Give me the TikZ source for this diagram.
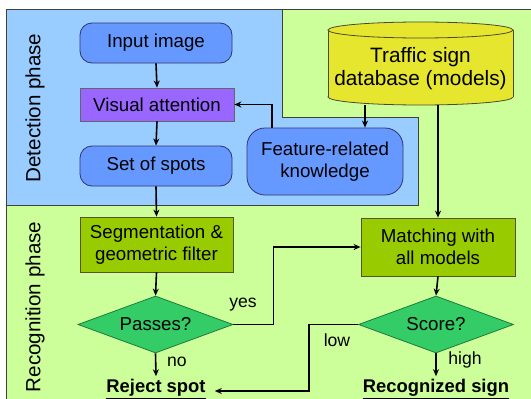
\documentclass[tikz,border=0pt]{standalone}
\usepackage{fontspec}
\setmainfont{Liberation Sans}
\usetikzlibrary{shapes.geometric,arrows.meta}
\definecolor{bluebg}{HTML}{99CCFF}
\definecolor{greenbg}{HTML}{CCFF99}
\definecolor{boxblue}{HTML}{6699FF}
\definecolor{boxpurple}{HTML}{9966FF}
\definecolor{boxolive}{HTML}{99CC00}
\definecolor{diagreen}{HTML}{33CC66}
\definecolor{dbyellow}{HTML}{E6E62E}
\begin{document}
\begin{tikzpicture}[x=1pt,y=-1pt,
  arr/.style={line width=1.6pt,-{Stealth[length=7pt,width=6pt]}},
  basefont/.style={font=\fontsize{18.7}{21.5}\selectfont, align=center},
  rbox/.style={basefont, draw=blue!30!black!80, fill=boxblue, line width=0.8pt, rounded corners=12pt, minimum width=152pt, minimum height=40pt, inner sep=0pt},
  pbox/.style={basefont, draw=black!60, fill=boxpurple, line width=0.8pt, minimum width=154pt, minimum height=33pt, inner sep=0pt},
  gbox/.style={basefont, draw=black!50!olive, fill=boxolive, line width=0.8pt, inner sep=0pt},
  dia/.style={basefont, diamond, aspect=2.7, draw=black!40!diagreen, fill=diagreen, line width=0.8pt, minimum width=155pt, minimum height=57pt, inner sep=0pt},
  res/.style={font=\fontsize{18.4}{21}\selectfont\bfseries, inner sep=3pt},
  lbl/.style={font=\fontsize{17.6}{20}\selectfont, inner sep=0pt},
  phase/.style={font=\fontsize{20.6}{24}\selectfont, rotate=90, inner sep=0pt},
  region/.style={draw=black!75, line width=1pt}
]
\useasboundingbox (0,0) rectangle (531,399);
\fill[white] (0,0) rectangle (531,399);
% regions
\fill[greenbg] (6,9) rectangle (531,399);
\draw[region] (6,399) -- (6,9) -- (531,9);
\filldraw[region, fill=bluebg] (6,9) -- (282,9) -- (282,117) -- (418,117) -- (418,205) -- (6,205) -- cycle;
\node[phase] (dp) at (35,108) {Detection phase};
\node[phase] (rp) at (35,307) {Recognition phase};
% database cylinder
\filldraw[fill=dbyellow, draw=black!60!olive, line width=0.8pt] (420.5,97) ellipse [x radius=92.5, y radius=8];
\fill[dbyellow] (328,30) rectangle (513,97);
\draw[draw=black!60!olive, line width=0.8pt] (328,30) -- (328,97) (513,30) -- (513,97);
\filldraw[fill=dbyellow, draw=black!60!olive, line width=0.8pt] (420.5,30) ellipse [x radius=92.5, y radius=8];
\node[font=\fontsize{20.8}{23}\selectfont, align=center, minimum width=185pt, minimum height=73pt, inner sep=0pt] (db) at (420.5,68.5) {Traffic sign\\database (models)};
% nodes
\node[rbox] (in) at (156,43) {Input image};
\node[pbox] (va) at (157,104.5) {Visual attention};
\node[rbox] (sp) at (156,166) {Set of spots};
\node[rbox, minimum width=156pt, minimum height=67pt, rounded corners=18pt] (fk) at (325,161.5) {Feature-related\\knowledge};
\node[gbox, minimum width=153pt, minimum height=55pt] (sg) at (156.5,244.5) {Segmentation \&\\geometric filter};
\node[gbox, minimum width=154pt, minimum height=58pt] (mt) at (438,247) {Matching with\\all models};
\node[dia] (ps) at (155.5,324.5) {Passes?};
\node[dia] (sc) at (436,324.5) {Score?};
\node[res, inner xsep=9pt] (rj) at (156,389) {\underline{Reject spot}};
\node[res] (rs) at (436,389) {\underline{Recognized sign}};
% connectors
\draw[arr] (in.south) -- (va.north);
\draw[arr] (va.south) -- (sp.north);
\draw[arr] (sp.south) -- (sg.north);
\draw[arr] (sg.south) -- (ps.north);
\draw[arr] (ps.south) -- (rj.north);
\draw[arr] (mt.south) -- (sc.north);
\draw[arr] (sc.south) -- (rs.north);
\draw[arr] ([xshift=-53pt]fk.north) |- (va.east);
\draw[arr] ([xshift=-55.5pt]db.south) -- ([xshift=40pt]fk.north);
\draw[arr] (db.south -| mt.north) -- (mt.north);
\draw[arr] (ps.east) -- ++(40,0) |- (mt.west);
\draw[arr] (sc.west) -- ++(-49,0) |- ([yshift=-2pt]rj.east);
% labels
\node[lbl] (yes) at (243,305) {yes};
\node[lbl] (no) at (177,362) {no};
\node[lbl] (low) at (337,340) {low};
\node[lbl] (high) at (465,360) {high};
\end{tikzpicture}
\end{document}
